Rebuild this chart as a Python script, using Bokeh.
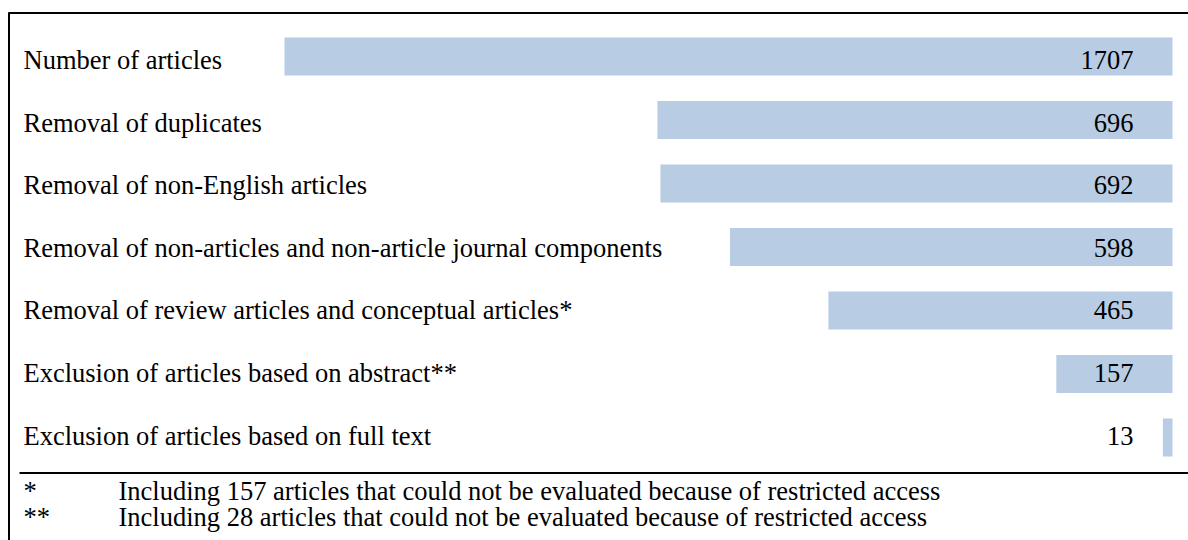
import numpy as np
from bokeh.plotting import figure
from bokeh.models import Range1d
from bokeh.core.properties import value
from bokeh.embed import file_html
from bokeh.resources import INLINE

# ---- data ----
categories = [
    "Number of articles",
    "Removal of duplicates",
    "Removal of non-English articles",
    "Removal of non-articles and non-article journal components",
    "Removal of review articles and conceptual articles*",
    "Exclusion of articles based on abstract**",
    "Exclusion of articles based on full text",
]
counts = [1707, 696, 692, 598, 465, 157, 13]
footnote_marks = ["*", "**"]
footnote_texts = [
    "Including 157 articles that could not be evaluated because of restricted access",
    "Including 28 articles that could not be evaluated because of restricted access",
]

# ---- layout / style ----
W, H = 1188, 540
PX_PER_UNIT = 0.74          # horizontal scale of the data bars
BAR_RIGHT_PX = 1172         # where every bar ends (value 0)
AXIS_BREAK = 1200           # bars longer than this are cut (broken bar)
ROW0_BAR, ROW_STEP_BAR = 56, 63.5
ROW0_TXT, ROW_STEP_TXT = 59.5, 62.6
BAR_H = 38
FONT = value("Liberation Serif")
FSIZE = "26.5px"
BAR_COLOR = "#b8cce4"

p = figure(
    width=W, height=H,
    x_range=Range1d(BAR_RIGHT_PX / PX_PER_UNIT, -(W - BAR_RIGHT_PX) / PX_PER_UNIT),
    y_range=Range1d(H, 0),
    output_backend="svg", toolbar_location=None, min_border=0,
)
p.extra_x_ranges["px"] = Range1d(0, W)
p.axis.visible = False
p.grid.visible = False
p.outline_line_color = None
p.background_fill_color = "white"
p.border_fill_color = "white"

idx = np.arange(len(categories))
bar_y = ROW0_BAR + ROW_STEP_BAR * idx
txt_y = ROW0_TXT + ROW_STEP_TXT * idx
vals = np.array(counts, dtype=float)

p.hbar(y=bar_y, left=0, right=np.minimum(vals, AXIS_BREAK), height=BAR_H,
       fill_color=BAR_COLOR, line_color=None)

p.text(x=[23] * len(categories), y=txt_y, text=categories, x_range_name="px",
       text_font=FONT, text_font_size=FSIZE, text_baseline="alphabetic",
       text_align="left", text_color="black")
p.text(x=[1133] * len(counts), y=txt_y, text=[str(c) for c in counts], x_range_name="px",
       text_font=FONT, text_font_size=FSIZE, text_baseline="alphabetic",
       text_align="right", text_color="black")

fn_y = [490, 516]
p.text(x=[23, 23], y=fn_y, text=footnote_marks, x_range_name="px",
       text_font=FONT, text_font_size=FSIZE, text_baseline="alphabetic",
       text_align="left", text_color="black")
p.text(x=[118, 118], y=fn_y, text=footnote_texts, x_range_name="px",
       text_font=FONT, text_font_size=FSIZE, text_baseline="alphabetic",
       text_align="left", text_color="black")

# table rules
p.segment(x0=[8, 8.5, 19], y0=[12.5, 12, 472.5], x1=[W, 8.5, W], y1=[12.5, H, 472.5],
          x_range_name="px", line_color="black", line_width=2)

open("out.html", "w").write(file_html(p, INLINE))
